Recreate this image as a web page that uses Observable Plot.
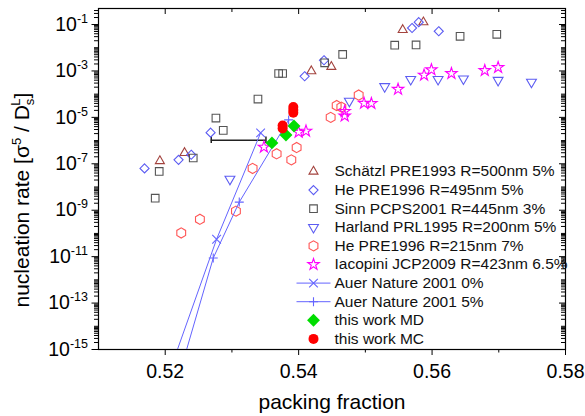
<!DOCTYPE html>
<html><head><meta charset="utf-8">
<script src="https://cdn.jsdelivr.net/npm/d3@7"></script>
<script src="https://cdn.jsdelivr.net/npm/@observablehq/plot@0.6"></script>
<style>
body{margin:0;background:#fff;}
#chart svg{font-family:"Liberation Sans",Arial,sans-serif;display:block;}
</style>
</head><body><div id="chart"></div>
<script>
// ---- data: packing fraction (phi) and log10 of nucleation rate (logJ) ----
const schatzlPhi  = [0.5192, 0.5229, 0.5419, 0.5449, 0.5556, 0.5587];
const schatzlLogJ = [-6.88, -6.53, -3.01, -2.82, -1.23, -0.90];

const he495Phi  = [0.5169, 0.5220, 0.5239, 0.5268, 0.5409, 0.5438, 0.5570, 0.5580, 0.5610];
const he495LogJ = [-7.20, -6.83, -6.61, -5.66, -3.23, -2.54, -1.15, -0.90, -1.29];

const sinnPhi  = [0.5185, 0.5191, 0.5242, 0.5276, 0.5287, 0.5339, 0.5370, 0.5376, 0.5439, 0.5466, 0.5544, 0.5576, 0.5642, 0.5697];
const sinnLogJ = [-8.48, -7.33, -6.75, -5.03, -5.56, -4.21, -3.11, -3.11, -2.65, -2.29, -1.89, -1.88, -1.51, -1.42];

const harlandPhi  = [0.5297, 0.5476, 0.5529, 0.5568, 0.5609, 0.5647, 0.5699, 0.5749];
const harlandLogJ = [-7.66, -4.30, -3.67, -3.36, -3.36, -3.34, -3.40, -3.48];

const he215Phi  = [0.5224, 0.5252, 0.5306, 0.5331, 0.5367, 0.5389, 0.5397, 0.5448, 0.5457, 0.5464, 0.5490];
const he215LogJ = [-9.98, -9.39, -9.04, -7.20, -6.57, -6.83, -6.30, -5.00, -4.49, -4.56, -4.04];

const iacopiniPhi  = [0.5348, 0.5400, 0.5411, 0.5469, 0.5469, 0.5498, 0.5509, 0.5549, 0.5588, 0.5599, 0.5629, 0.5679, 0.5699];
const iacopiniLogJ = [-6.28, -5.64, -5.59, -4.74, -4.94, -4.39, -4.40, -3.79, -3.18, -2.95, -3.11, -2.98, -2.85];

const auer0Phi  = [0.5206, 0.5277, 0.5343];
const auer0LogJ = [-16.0, -10.25, -5.67];

const auer5Phi  = [0.5225, 0.5272, 0.5311, 0.5385];
const auer5LogJ = [-15.7, -11.06, -8.65, -5.11];

const mdPhi  = [0.5360, 0.5381, 0.5393];
const mdLogJ = [-6.10, -5.76, -5.37];

const mcPhi  = [0.5376, 0.5376, 0.5392, 0.5392, 0.5392];
const mcLogJ = [-5.35, -5.48, -4.55, -4.68, -4.80];

// horizontal error bar
const errPhi  = [0.5269, 0.5351];
const errLogJ = -5.99;

// ticks
const xMajor = [0.52, 0.54, 0.56, 0.58];
const xMinor = [0.53, 0.55, 0.57];
const yMajorExp = [-15, -13, -11, -9, -7, -5, -3, -1];

const legendLabels = [
  "Schätzl PRE1993 R=500nm 5%",
  "He PRE1996 R=495nm 5%",
  "Sinn PCPS2001 R=445nm 3%",
  "Harland PRL1995 R=200nm 5%",
  "He PRE1996 R=215nm 7%",
  "Iacopini JCP2009 R=423nm 6.5%",
  "Auer Nature 2001 0%",
  "Auer Nature 2001 5%",
  "this work MD",
  "this work MC"
];

// ---- layout & styles ----
const W = 585, H = 416, mL = 98, mR = 20, mT = 8, mB = 67;
const plotW = W - mL - mR, plotH = H - mT - mB;
const yTop = 10 ** -0.31;

const hLine = {draw(ctx) { ctx.moveTo(-17, 0); ctx.lineTo(17, 0); }};

const styles = [
  {phi: schatzlPhi, logJ: schatzlLogJ, symbol: "triangle2", stroke: "#a3433e", r: 4.3},
  {phi: he495Phi, logJ: he495LogJ, symbol: "diamond2", stroke: "#5c5cf2", r: 4.1},
  {phi: sinnPhi, logJ: sinnLogJ, symbol: "square", stroke: "#555555", r: 4.3},
  {phi: harlandPhi, logJ: harlandLogJ, symbol: "triangle2", stroke: "#5c5cf2", r: 4.7, rotate: 180},
  {phi: he215Phi, logJ: he215LogJ, symbol: "hexagon", stroke: "#ff5555", r: 4.4},
  {phi: iacopiniPhi, logJ: iacopiniLogJ, symbol: "star", stroke: "#ff00ff", r: 3.6},
  {phi: auer0Phi, logJ: auer0LogJ, symbol: "times", stroke: "#6464ff", r: 4, line: true},
  {phi: auer5Phi, logJ: auer5LogJ, symbol: "plus", stroke: "#6464ff", r: 3, line: true},
  {phi: mdPhi, logJ: mdLogJ, symbol: "diamond2", fill: "#00dd00", r: 5.8},
  {phi: mcPhi, logJ: mcLogJ, symbol: "circle", fill: "#ff0000", r: 5}
];

const yMajor = yMajorExp.map(e => 10 ** e);
const yMinor = [];
for (let e = -15; e <= -1; e++) for (let k = 2; k <= 10; k++) {
  const v = k * 10 ** e;
  if (v > yTop) continue;
  if (k === 10 && yMajorExp.includes(e + 1)) continue;
  yMinor.push(v);
}

const marks = [];
marks.push(Plot.frame({stroke: "#000", strokeWidth: 1.2}));

// error bar
marks.push(Plot.ruleY([errLogJ], {y: d => 10 ** d, x1: errPhi[0], x2: errPhi[1], stroke: "#222", strokeWidth: 1.5}));
marks.push(Plot.ruleX(errPhi, {x: d => d, y1: 10 ** (errLogJ - 0.14), y2: 10 ** (errLogJ + 0.14), stroke: "#222", strokeWidth: 1.5}));

styles.forEach(s => {
  const idx = d3.range(s.phi.length);
  const opts = {x: i => s.phi[i], y: i => 10 ** s.logJ[i], clip: true};
  if (s.line) marks.push(Plot.line(idx, {...opts, stroke: s.stroke, strokeWidth: 1}));
  marks.push(Plot.dot(idx, {
    ...opts, symbol: s.symbol, r: s.r,
    stroke: s.stroke || "none", fill: s.fill || "none",
    strokeWidth: 1.1, rotate: s.rotate || 0
  }));
});

// axes
marks.push(Plot.axisX({ticks: xMajor, tickSize: 6, tickPadding: 9, fontSize: 19.5, tickFormat: d3.format(".2f"), label: null}));
marks.push(Plot.axisX({ticks: xMinor, tickSize: 3.5, tickFormat: () => "", label: null}));
marks.push(Plot.axisY({ticks: yMajor, tickSize: 6.5, tickPadding: 4, fontSize: 19.5,
  tickFormat: d => "10^" + Math.round(Math.log10(d)), label: null}));
marks.push(Plot.axisY({ticks: yMinor, tickSize: 4, tickFormat: () => "", label: null}));
// mirrored inward ticks (top and right)
marks.push(Plot.tickX(xMajor.slice(0, 3), {x: d => d, insetBottom: plotH - 6}));
marks.push(Plot.tickX(xMinor, {x: d => d, insetBottom: plotH - 4}));
marks.push(Plot.tickY(yMajor, {y: d => d, insetLeft: plotW - 6}));
marks.push(Plot.tickY(yMinor, {y: d => d, insetLeft: plotW - 4}));

// axis titles
marks.push(Plot.text(["packing fraction"], {frameAnchor: "bottom", dy: 53, fontSize: 21, text: d => d,
  textAnchor: "middle", lineAnchor: "middle"}));
marks.push(Plot.text(["nucleation rate"], {frameAnchor: "left", rotate: -90, dx: -76, dy: 128.5, fontSize: 21, text: d => d,
  textAnchor: "start", lineAnchor: "middle"}));

// legend
styles.forEach((s, i) => {
  const dy = 163 + i * 18.6;
  if (s.line) marks.push(Plot.dot([0], {frameAnchor: "top-left", dx: 215, dy, symbol: hLine, stroke: s.stroke, strokeWidth: 1}));
  marks.push(Plot.dot([0], {frameAnchor: "top-left", dx: 215, dy, symbol: s.symbol, r: s.r,
    stroke: s.stroke || "none", fill: s.fill || "none", strokeWidth: 1.1, rotate: s.rotate || 0}));
  marks.push(Plot.text([legendLabels[i]], {frameAnchor: "top-left", dx: 236, dy, text: d => d,
    textAnchor: "start", lineAnchor: "middle", fontSize: 15.5, fill: "#111"}));
});

const chart = Plot.plot({
  width: W, height: H,
  marginLeft: mL, marginRight: mR, marginTop: mT, marginBottom: mB,
  x: {domain: [0.51, 0.58]},
  y: {type: "log", domain: [1e-15, yTop]},
  style: {fontFamily: "'Liberation Sans', Arial, sans-serif", color: "#000", background: "#fff"},
  marks
});
document.getElementById("chart").appendChild(chart);

// superscripts in y tick labels
chart.querySelectorAll('g[aria-label="y-axis tick label"] text').forEach(t => {
  const s = t.textContent;
  if (!s.includes("^")) return;
  const [b, e] = s.split("^");
  t.innerHTML = `${b}<tspan dy="-8" font-size="12.5">${e}</tspan>`;
});
// y title with super/subscripts
chart.querySelectorAll('text').forEach(t => {
  if (t.textContent !== "nucleation rate") return;
  t.innerHTML = 'nucleation rate [σ<tspan dy="-8" font-size="13">5</tspan><tspan dy="8"> / D</tspan>' +
    '<tspan dy="5" font-size="13">s</tspan><tspan dx="-7" dy="-14" font-size="13">L</tspan><tspan dy="9">]</tspan>';
});
</script>
</body></html>
